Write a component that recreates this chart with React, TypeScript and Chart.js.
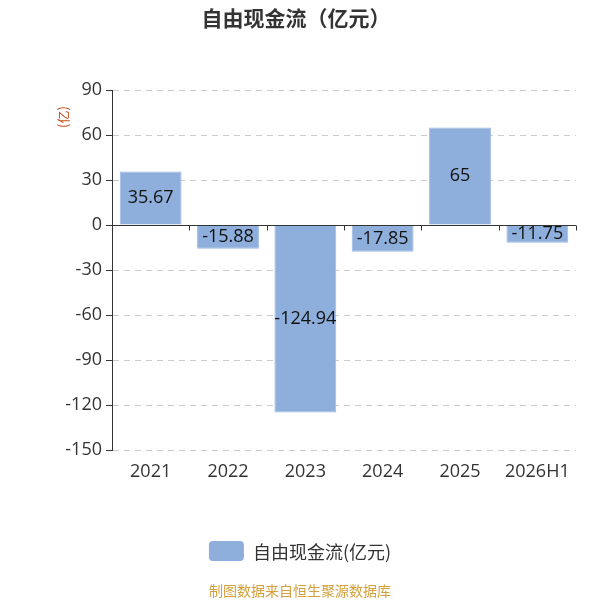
import React, { useEffect, useRef } from "react";
import { Chart, registerables } from "chart.js";

Chart.register(...registerables);

const categories = ["2021", "2022", "2023", "2024", "2025", "2026H1"];
const values = [35.67, -15.88, -124.94, -17.85, 65, -11.75];
const seriesName = "自由现金流(亿元)";
const titleText = "自由现金流（亿元）";
const yUnit = "(亿)";
const sourceText = "制图数据来自恒生聚源数据库";

const FONT = '"Open Sans", "Noto Sans CJK SC", sans-serif';
const CJK = '"Noto Sans CJK SC", "Noto Sans", sans-serif';
const BAR = "#8eaedb";

const decorPlugin = {
  id: "decor",
  afterDatasetsDraw(chart: any) {
    const ctx = chart.ctx;
    const x = chart.scales.x;
    const y = chart.scales.y;
    const area = chart.chartArea;
    const y0 = Math.round(y.getPixelForValue(0)) + 0.5;
    ctx.save();
    ctx.strokeStyle = "#333";
    ctx.lineWidth = 1;
    ctx.beginPath();
    ctx.moveTo(area.left, y0);
    ctx.lineTo(area.right, y0);
    const n = categories.length;
    for (let i = 0; i < n; i++) {
      let bx;
      if (i < n - 1) bx = (x.getPixelForValue(i) + x.getPixelForValue(i + 1)) / 2;
      else bx = area.right;
      bx = Math.round(bx) + 0.5;
      ctx.moveTo(bx, y0);
      ctx.lineTo(bx, y0 + 5);
    }
    ctx.stroke();

    const meta = chart.getDatasetMeta(0);
    ctx.fillStyle = "#111";
    ctx.font = "18px " + FONT;
    ctx.textAlign = "center";
    ctx.textBaseline = "middle";
    meta.data.forEach((bar: any, i: number) => {
      const cy = (bar.y + bar.base) / 2;
      ctx.fillText(String(values[i]), bar.x, cy);
    });
    ctx.restore();
  },
  afterDraw(chart: any) {
    const ctx = chart.ctx;
    ctx.save();
    ctx.fillStyle = "#333";
    ctx.font = "bold 21px " + CJK;
    ctx.textAlign = "center";
    ctx.textBaseline = "middle";
    ctx.fillText(titleText, 296, 18);

    ctx.save();
    ctx.translate(63, 117);
    ctx.rotate(-Math.PI / 2);
    ctx.fillStyle = "#c4501c";
    ctx.font = "13px " + CJK;
    ctx.fillText(yUnit, 0, 0);
    ctx.restore();

    const boxW = 35, boxH = 20;
    ctx.font = "18px " + CJK;
    const tw = ctx.measureText(seriesName).width;
    const total = boxW + 9 + tw;
    const lx = 300 - total / 2;
    const ly = 551;
    ctx.fillStyle = BAR;
    ctx.beginPath();
    if ((ctx as any).roundRect) (ctx as any).roundRect(lx, ly - boxH / 2, boxW, boxH, 4);
    else ctx.rect(lx, ly - boxH / 2, boxW, boxH);
    ctx.fill();
    ctx.fillStyle = "#333";
    ctx.textAlign = "left";
    ctx.fillText(seriesName, lx + boxW + 9, ly + 1);

    ctx.fillStyle = "#d4a03c";
    ctx.font = "14px " + CJK;
    ctx.textAlign = "center";
    ctx.fillText(sourceText, 300, 591);
    ctx.restore();
  },
};

export default function App() {
  const ref = useRef<HTMLCanvasElement | null>(null);
  useEffect(() => {
    if (!ref.current) return;
    const chart = new Chart(ref.current, {
      type: "bar",
      data: {
        labels: categories,
        datasets: [
          {
            label: seriesName,
            data: values,
            backgroundColor: BAR,
            borderColor: "#9cb8e2",
            borderWidth: 1,
            categoryPercentage: 1,
            barPercentage: 0.8,
          },
        ],
      },
      options: {
        animation: false,
        responsive: false,
        devicePixelRatio: 1,
        layout: { padding: { top: 90, left: 0, right: 24, bottom: 0 } },
        plugins: {
          legend: { display: false },
          title: { display: false },
          tooltip: { enabled: false },
        },
        scales: {
          x: {
            type: "category",
            grid: { display: false },
            border: { display: false },
            ticks: { color: "#333", font: { size: 18, family: FONT }, padding: 3, maxRotation: 0 },
            afterFit: (s: any) => {
              s.height = 150;
            },
          },
          y: {
            min: -150,
            max: 90,
            ticks: { stepSize: 30, color: "#333", font: { size: 18, family: FONT }, padding: 4 },
            grid: { color: "#cccccc", tickColor: "#333", tickLength: 6, lineWidth: 1 },
            border: { display: true, color: "#333", dash: [6, 5] },
            afterFit: (s: any) => {
              s.width = 112;
            },
          },
        },
      },
      plugins: [decorPlugin],
    } as any);
    return () => chart.destroy();
  }, []);
  return (
    <div style={{ position: "fixed", left: 0, top: 0, width: 600, height: 600, background: "#fff" }}>
      <canvas ref={ref} width={600} height={600} style={{ width: 600, height: 600 }} />
    </div>
  );
}
